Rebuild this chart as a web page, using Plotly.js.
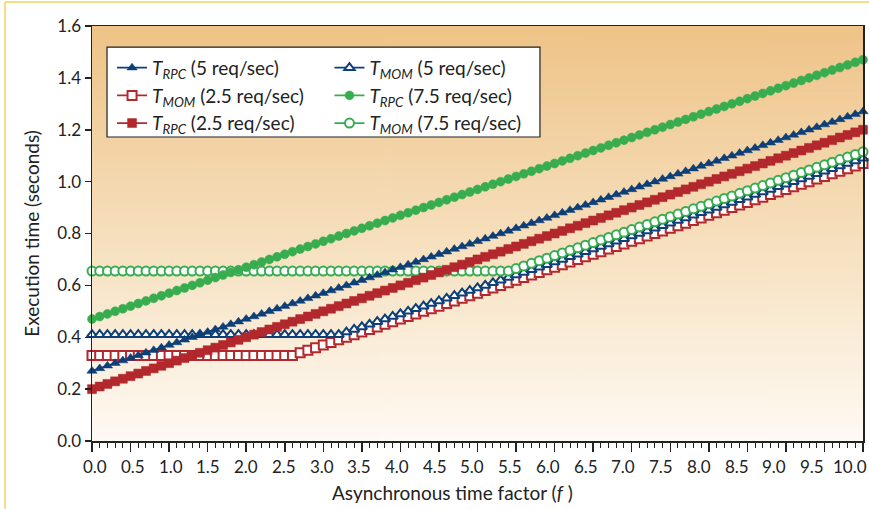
<!DOCTYPE html>
<html>
<head>
<meta charset="utf-8">
<script src="https://cdn.plot.ly/plotly-3.0.1.min.js"></script>
<style>html,body{margin:0;padding:0;background:#fff;}#chart{width:869px;height:509px;}</style>
</head>
<body>
<div id="chart"></div>
<script>
// ---- data ----
var xs = [0.0,0.1,0.2,0.3,0.4,0.5,0.6,0.7,0.8,0.9,
1.0,1.1,1.2,1.3,1.4,1.5,1.6,1.7,1.8,1.9,
2.0,2.1,2.2,2.3,2.4,2.5,2.6,2.7,2.8,2.9,
3.0,3.1,3.2,3.3,3.4,3.5,3.6,3.7,3.8,3.9,
4.0,4.1,4.2,4.3,4.4,4.5,4.6,4.7,4.8,4.9,
5.0,5.1,5.2,5.3,5.4,5.5,5.6,5.7,5.8,5.9,
6.0,6.1,6.2,6.3,6.4,6.5,6.6,6.7,6.8,6.9,
7.0,7.1,7.2,7.3,7.4,7.5,7.6,7.7,7.8,7.9,
8.0,8.1,8.2,8.3,8.4,8.5,8.6,8.7,8.8,8.9,
9.0,9.1,9.2,9.3,9.4,9.5,9.6,9.7,9.8,9.9,
10.0];

var rpc5 = [0.27,0.28,0.29,
0.30,0.31,0.32,0.33,0.34,0.35,0.36,0.37,0.38,0.39,
0.40,0.41,0.42,0.43,0.44,0.45,0.46,0.47,0.48,0.49,
0.50,0.51,0.52,0.53,0.54,0.55,0.56,0.57,0.58,0.59,
0.60,0.61,0.62,0.63,0.64,0.65,0.66,0.67,0.68,0.69,
0.70,0.71,0.72,0.73,0.74,0.75,0.76,0.77,0.78,0.79,
0.80,0.81,0.82,0.83,0.84,0.85,0.86,0.87,0.88,0.89,
0.90,0.91,0.92,0.93,0.94,0.95,0.96,0.97,0.98,0.99,
1.00,1.01,1.02,1.03,1.04,1.05,1.06,1.07,1.08,1.09,
1.10,1.11,1.12,1.13,1.14,1.15,1.16,1.17,1.18,1.19,
1.20,1.21,1.22,1.23,1.24,1.25,1.26,1.27];

var rpc25 = [0.20,0.21,0.22,0.23,0.24,0.25,0.26,0.27,0.28,0.29,
0.30,0.31,0.32,0.33,0.34,0.35,0.36,0.37,0.38,0.39,
0.40,0.41,0.42,0.43,0.44,0.45,0.46,0.47,0.48,0.49,
0.50,0.51,0.52,0.53,0.54,0.55,0.56,0.57,0.58,0.59,
0.60,0.61,0.62,0.63,0.64,0.65,0.66,0.67,0.68,0.69,
0.70,0.71,0.72,0.73,0.74,0.75,0.76,0.77,0.78,0.79,
0.80,0.81,0.82,0.83,0.84,0.85,0.86,0.87,0.88,0.89,
0.90,0.91,0.92,0.93,0.94,0.95,0.96,0.97,0.98,0.99,
1.00,1.01,1.02,1.03,1.04,1.05,1.06,1.07,1.08,1.09,
1.10,1.11,1.12,1.13,1.14,1.15,1.16,1.17,1.18,1.19,
1.20];

var rpc75 = [0.47,0.48,0.49,
0.50,0.51,0.52,0.53,0.54,0.55,0.56,0.57,0.58,0.59,
0.60,0.61,0.62,0.63,0.64,0.65,0.66,0.67,0.68,0.69,
0.70,0.71,0.72,0.73,0.74,0.75,0.76,0.77,0.78,0.79,
0.80,0.81,0.82,0.83,0.84,0.85,0.86,0.87,0.88,0.89,
0.90,0.91,0.92,0.93,0.94,0.95,0.96,0.97,0.98,0.99,
1.00,1.01,1.02,1.03,1.04,1.05,1.06,1.07,1.08,1.09,
1.10,1.11,1.12,1.13,1.14,1.15,1.16,1.17,1.18,1.19,
1.20,1.21,1.22,1.23,1.24,1.25,1.26,1.27,1.28,1.29,
1.30,1.31,1.32,1.33,1.34,1.35,1.36,1.37,1.38,1.39,
1.40,1.41,1.42,1.43,1.44,1.45,1.46,1.47];

var mom5 = [0.41,0.41,0.41,0.41,0.41,0.41,0.41,0.41,0.41,0.41,
0.41,0.41,0.41,0.41,0.41,0.41,0.41,0.41,0.41,0.41,
0.41,0.41,0.41,0.41,0.41,0.41,0.41,0.41,0.41,0.41,
0.41,0.41,0.41,
0.42,0.43,0.44,0.45,0.46,0.47,0.48,0.49,
0.50,0.51,0.52,0.53,0.54,0.55,0.56,0.57,0.58,0.59,
0.60,0.61,0.62,0.63,0.64,0.65,0.66,0.67,0.68,0.69,
0.70,0.71,0.72,0.73,0.74,0.75,0.76,0.77,0.78,0.79,
0.80,0.81,0.82,0.83,0.84,0.85,0.86,0.87,0.88,0.89,
0.90,0.91,0.92,0.93,0.94,0.95,0.96,0.97,0.98,0.99,
1.00,1.01,1.02,1.03,1.04,1.05,1.06,1.07,1.08,1.09];

var mom25 = [0.33,0.33,0.33,0.33,0.33,0.33,0.33,0.33,0.33,0.33,
0.33,0.33,0.33,0.33,0.33,0.33,0.33,0.33,0.33,0.33,
0.33,0.33,0.33,0.33,0.33,0.33,0.33,
0.34,0.35,0.36,0.37,0.38,0.39,
0.40,0.41,0.42,0.43,0.44,0.45,0.46,0.47,0.48,0.49,
0.50,0.51,0.52,0.53,0.54,0.55,0.56,0.57,0.58,0.59,
0.60,0.61,0.62,0.63,0.64,0.65,0.66,0.67,0.68,0.69,
0.70,0.71,0.72,0.73,0.74,0.75,0.76,0.77,0.78,0.79,
0.80,0.81,0.82,0.83,0.84,0.85,0.86,0.87,0.88,0.89,
0.90,0.91,0.92,0.93,0.94,0.95,0.96,0.97,0.98,0.99,
1.00,1.01,1.02,1.03,1.04,1.05,1.06,1.07];

var mom75 = [0.655,0.655,0.655,0.655,0.655,0.655,0.655,0.655,0.655,0.655,
0.655,0.655,0.655,0.655,0.655,0.655,0.655,0.655,0.655,0.655,
0.655,0.655,0.655,0.655,0.655,0.655,0.655,0.655,0.655,0.655,
0.655,0.655,0.655,0.655,0.655,0.655,0.655,0.655,0.655,0.655,
0.655,0.655,0.655,0.655,0.655,0.655,0.655,0.655,0.655,0.655,
0.655,0.655,0.655,0.655,0.655,
0.665,0.675,0.685,0.695,0.705,0.715,0.725,0.735,0.745,0.755,
0.765,0.775,0.785,0.795,0.805,0.815,0.825,0.835,0.845,0.855,
0.865,0.875,0.885,0.895,0.905,0.915,0.925,0.935,0.945,0.955,
0.965,0.975,0.985,0.995,
1.005,1.015,1.025,1.035,1.045,1.055,1.065,1.075,1.085,1.095,1.105,1.115];

var xTickVals = [0,0.5,1,1.5,2,2.5,3,3.5,4,4.5,5,5.5,6,6.5,7,7.5,8,8.5,9,9.5,10];
var xTickText = ['0.0','0.5','1.0','1.5','2.0','2.5','3.0','3.5','4.0','4.5','5.0','5.5','6.0','6.5','7.0','7.5','8.0','8.5','9.0','9.5','10.0'];
var xTitle = 'Asynchronous time factor (<i>f</i> )';
var yTitle = 'Execution time (seconds)';

var names = {
  rpc5: '<i>T<sub>RPC</sub></i> (5 req/sec)',
  mom5: '<i>T<sub>MOM</sub></i> (5 req/sec)',
  mom25: '<i>T<sub>MOM</sub></i> (2.5 req/sec)',
  rpc75: '<i>T<sub>RPC</sub></i> (7.5 req/sec)',
  rpc25: '<i>T<sub>RPC</sub></i> (2.5 req/sec)',
  mom75: '<i>T<sub>MOM</sub></i> (7.5 req/sec)'
};

var BLUE = '#0d3f78', RED = '#b3282d', GREEN = '#38ad50';

function tr(y, name, color, symbol, hollow, legend) {
  return {
    x: xs, y: y, name: name, type: 'scatter', mode: 'lines+markers',
    legend: legend,
    cliponaxis: false,
    line: {color: color, width: 1.8},
    marker: {
      symbol: symbol, size: 9,
      color: hollow ? '#ffffff' : color,
      line: {color: color, width: hollow ? 2 : 0.5}
    }
  };
}

var data = [
  tr(mom25, names.mom25, RED, 'square', true, 'legend'),
  tr(mom5, names.mom5, BLUE, 'triangle-up', true, 'legend2'),
  tr(mom75, names.mom75, GREEN, 'circle', true, 'legend2'),
  tr(rpc25, names.rpc25, RED, 'square', false, 'legend'),
  tr(rpc5, names.rpc5, BLUE, 'triangle-up', false, 'legend'),
  tr(rpc75, names.rpc75, GREEN, 'circle', false, 'legend2')
];
// legend order within columns
data[4].legendrank = 1; data[0].legendrank = 2; data[3].legendrank = 3;
data[1].legendrank = 1; data[5].legendrank = 2; data[2].legendrank = 3;

// gradient background image
var cv = document.createElement('canvas');
cv.width = 4; cv.height = 256;
var ctx = cv.getContext('2d');
var g = ctx.createLinearGradient(0, 0, 0, 256);
g.addColorStop(0, '#eec387');
g.addColorStop(0.5, '#f6dfbc');
g.addColorStop(1, '#fefaf4');
ctx.fillStyle = g; ctx.fillRect(0, 0, 4, 256);
var bg = cv.toDataURL('image/png');

var FONT = 'Lato, "Open Sans", sans-serif';
var AX = '#222222';

// x tick labels: the original typesets them slightly tighter than the tick spacing
var annotations = xTickVals.map(function (v, i) {
  return {text: xTickText[i], xref: 'x', yref: 'paper', x: v * 0.979 + 0.04, y: 0,
          yanchor: 'top', xanchor: 'center', yshift: -13, showarrow: false,
          font: {family: FONT, size: 17, color: AX}};
});
annotations.push({text: xTitle, xref: 'paper', yref: 'paper', x: 0.468, y: 0,
  xanchor: 'center', yanchor: 'middle', yshift: -51, showarrow: false,
  font: {family: FONT, size: 19, color: AX}});

var layout = {
  width: 869, height: 509,
  margin: {l: 92, r: 6, t: 26, b: 68},
  paper_bgcolor: '#ffffff',
  plot_bgcolor: 'rgba(0,0,0,0)',
  font: {family: FONT, size: 17, color: AX},
  showlegend: true,
  images: [{source: bg, xref: 'paper', yref: 'paper', x: 0, y: 1, sizex: 1, sizey: 1,
            sizing: 'stretch', layer: 'below'}],
  xaxis: {
    range: [0, 10], tickmode: 'array', tickvals: xTickVals, showticklabels: false,
    ticks: 'outside', ticklen: 9, tickwidth: 1.5, tickcolor: AX,
    showline: true, linecolor: AX, linewidth: 1.5, mirror: true,
    showgrid: false, zeroline: false,
    minor: {dtick: 0.1, tick0: 0, ticks: 'outside', ticklen: 5, tickwidth: 1, tickcolor: AX, showgrid: false}
  },
  yaxis: {
    range: [0, 1.6], dtick: 0.2, tick0: 0, tickformat: '.1f',
    ticks: 'outside', ticklen: 6, tickwidth: 1.5, tickcolor: AX,
    showline: true, linecolor: AX, linewidth: 1.5, mirror: true,
    showgrid: false, zeroline: false,
    tickfont: {family: FONT, size: 17, color: AX},
    title: {text: yTitle, font: {family: FONT, size: 19, color: AX}, standoff: 12}
  },
  legend: {
    x: 0.026, y: 0.945, xanchor: 'left', yanchor: 'top',
    bgcolor: 'rgba(0,0,0,0)', borderwidth: 0,
    font: {family: FONT, size: 19, color: AX},
    tracegroupgap: 0, itemwidth: 30, traceorder: 'normal'
  },
  legend2: {
    x: 0.308, y: 0.945, xanchor: 'left', yanchor: 'top',
    bgcolor: 'rgba(0,0,0,0)', borderwidth: 0,
    font: {family: FONT, size: 19, color: AX},
    tracegroupgap: 0, itemwidth: 30, traceorder: 'normal'
  },
  annotations: annotations,
  shapes: [
    {type: 'rect', xref: 'paper', yref: 'paper', x0: 0.0195, x1: 0.581, y0: 0.7325, y1: 0.949,
     fillcolor: '#ffffff', line: {color: '#222', width: 1.2}, layer: 'above'},
    {type: 'line', xref: 'paper', yref: 'paper', x0: -0.1128, x1: 1.02, y0: 1.0578, y1: 1.0578,
     line: {color: '#f3d35f', width: 1.5}},
    {type: 'line', xref: 'paper', yref: 'paper', x0: -0.1128, x1: -0.1128, y0: -0.17, y1: 1.0578,
     line: {color: '#f3d35f', width: 1.5}}
  ]
};

Plotly.newPlot('chart', data, layout, {displayModeBar: false, staticPlot: true});
</script>
</body>
</html>
